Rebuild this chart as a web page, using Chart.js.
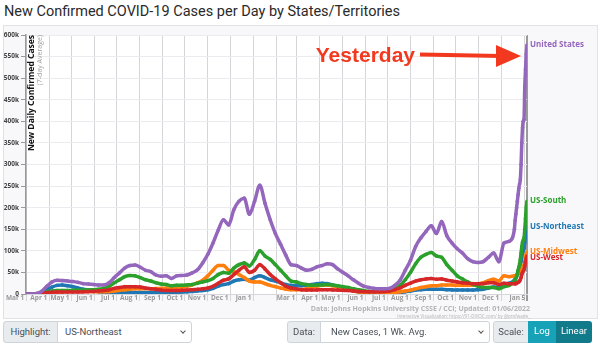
<!DOCTYPE html>
<html>
<head>
<meta charset="utf-8">
<script src="https://cdn.jsdelivr.net/npm/chart.js@4.4.1/dist/chart.umd.min.js"></script>
<style>
  body { margin:0; width:600px; height:344px; background:#fff; font-family:Roboto, sans-serif; position:relative; overflow:hidden; }
  #title { position:absolute; left:4px; top:3px; font-size:14.5px; color:#2a2a2a; white-space:nowrap; }
  #box { position:absolute; left:3px; top:25px; width:593px; height:292px; border:1px solid #e2e2e6; background:#f8f8fa; }
  #grafico { position:absolute; left:0; top:0; }
  #credito { position:absolute; right:70px; top:304px; text-align:right; font-family:"Open Sans", sans-serif; color:#b3b3b8; }
  #credito .l1 { font-size:7px; font-weight:bold; line-height:9px; }
  #credito .l2 { font-size:4.5px; line-height:6px; }
  .ctl { position:absolute; top:321px; height:22px; box-sizing:border-box; border:1px solid #ced4da; font-size:9.5px; color:#495057; line-height:20px; white-space:nowrap; overflow:hidden; }
  .lab { background:#e9ecef; text-align:center; }
  .sel { background:#fff; padding-left:7px; }
  .sel:after { content:""; position:absolute; right:6px; top:7px; width:3px; height:3px; border-right:1px solid #555; border-bottom:1px solid #555; transform:rotate(45deg); }
  .btn { color:#fff; text-align:center; border:none; }
</style>
</head>
<body>
<div id="title">New Confirmed COVID-19 Cases per Day by States/Territories</div>
<div id="box"></div>
<canvas id="grafico" width="600" height="320"></canvas>
<div id="credito">
  <div class="l1">Data: Johns Hopkins University CSSE / CCI; Updated: 01/06/2022</div>
  <div class="l2">Interactive Visualization: https://91-DIVOC.com/ by @profwade_</div>
</div>
<div class="ctl lab" style="left:3px;width:55px;border-radius:3px 0 0 3px;">Highlight:</div>
<div class="ctl sel" style="left:57px;width:135px;border-radius:0 3px 3px 0;">US-Northeast</div>
<div class="ctl lab" style="left:287px;width:34px;border-radius:3px 0 0 3px;">Data:</div>
<div class="ctl sel" style="left:320px;width:170px;padding-left:10px;border-radius:0 3px 3px 0;">New Cases, 1 Wk. Avg.</div>
<div class="ctl lab" style="left:493px;width:36px;border-radius:3px 0 0 3px;">Scale:</div>
<div class="ctl btn" style="left:528px;width:28px;background:#17a2b8;">Log</div>
<div class="ctl btn" style="left:556px;width:36px;background:#117a8b;border-radius:0 3px 3px 0;">Linear</div>
<script>
// fechas: semanal hasta el 19 dic 2021, luego diario
const fechas = [
  '2020-03-01','2020-03-08','2020-03-15','2020-03-22','2020-03-29','2020-04-05','2020-04-12','2020-04-19','2020-04-26','2020-05-03',
  '2020-05-10','2020-05-17','2020-05-24','2020-05-31','2020-06-07','2020-06-14','2020-06-21','2020-06-28','2020-07-05','2020-07-12',
  '2020-07-19','2020-07-26','2020-08-02','2020-08-09','2020-08-16','2020-08-23','2020-08-30','2020-09-06','2020-09-13','2020-09-20',
  '2020-09-27','2020-10-04','2020-10-11','2020-10-18','2020-10-25','2020-11-01','2020-11-08','2020-11-15','2020-11-22','2020-11-29',
  '2020-12-06','2020-12-13','2020-12-20','2020-12-27','2021-01-03','2021-01-10','2021-01-17','2021-01-24','2021-01-31','2021-02-07',
  '2021-02-14','2021-02-21','2021-02-28','2021-03-07','2021-03-14','2021-03-21','2021-03-28','2021-04-04','2021-04-11','2021-04-18',
  '2021-04-25','2021-05-02','2021-05-09','2021-05-16','2021-05-23','2021-05-30','2021-06-06','2021-06-13','2021-06-20','2021-06-27',
  '2021-07-04','2021-07-11','2021-07-18','2021-07-25','2021-08-01','2021-08-08','2021-08-15','2021-08-22','2021-08-29','2021-09-05',
  '2021-09-12','2021-09-19','2021-09-26','2021-10-03','2021-10-10','2021-10-17','2021-10-24','2021-10-31','2021-11-07','2021-11-14',
  '2021-11-21','2021-11-28','2021-12-05','2021-12-12','2021-12-19',
  '2021-12-20','2021-12-21','2021-12-22','2021-12-23','2021-12-24','2021-12-25','2021-12-26','2021-12-27','2021-12-28','2021-12-29',
  '2021-12-30','2021-12-31','2022-01-01','2022-01-02','2022-01-03','2022-01-04','2022-01-05'
];

// casos diarios (promedio 7 dias), en miles
const estadosUnidos = [
  0, 0.1, 1, 6, 18, 28, 32, 31, 30, 29,
  27, 24, 23, 22, 21, 21, 26, 38, 49, 60,
  66, 67, 62, 55, 52, 44, 41, 42, 36, 42,
  43, 44, 49, 56, 72, 92, 118, 148, 172, 160,
  195, 215, 222, 185, 215, 252, 210, 172, 140, 115,
  90, 68, 66, 60, 55, 57, 63, 66, 70, 68,
  58, 50, 42, 33, 25, 18, 15, 13, 12, 12,
  13, 20, 32, 55, 78, 110, 130, 145, 158, 140,
  168, 135, 118, 105, 95, 82, 75, 73, 75, 85,
  95, 75, 118, 122, 150,
  170, 185, 200, 215, 230, 245, 255, 265, 300, 350,
  385, 400, 405, 480, 520, 556, 577
];
const usSur = [
  0, 0, 0.3, 1.5, 5, 7, 8, 8, 8, 8.5,
  8.5, 9, 9.5, 10, 11, 13, 18, 26, 33, 40,
  43, 42, 38, 33, 30, 26, 23, 22, 19, 20,
  20, 21, 22, 25, 28, 31, 36, 45, 50, 48,
  60, 68, 72, 65, 80, 100, 88, 80, 68, 55,
  42, 30, 28, 24, 22, 20, 21, 21, 22, 21,
  19, 17, 15, 12, 10, 8, 6, 6, 7, 7,
  8, 12, 20, 33, 50, 70, 85, 92, 96, 88,
  85, 68, 55, 42, 35, 28, 22, 18, 15, 15,
  15, 12, 17, 20, 30,
  33, 36, 40, 45, 55, 62, 70, 80, 95, 110,
  120, 125, 130, 150, 175, 200, 215
];
const usNoreste = [
  0, 0, 0.5, 3, 10, 16, 20, 21, 19, 17,
  14, 11, 9, 7, 5, 4, 3, 3, 3, 3,
  3.5, 3.5, 3.5, 3.5, 3.5, 3.2, 3.2, 3.5, 3.5, 4,
  4.5, 5, 6, 7, 8, 10, 13, 18, 22, 24,
  30, 33, 34, 32, 38, 42, 38, 33, 30, 26,
  22, 20, 19, 19, 20, 22, 24, 25, 24, 21,
  18, 14, 10, 7, 5, 3, 2, 1.5, 1.2, 1.2,
  1.5, 2, 3, 5, 7, 9, 10, 11, 11, 11,
  11, 10, 9.5, 9, 9, 9, 9, 10, 11, 14,
  16, 15, 22, 25, 32,
  35, 38, 42, 47, 52, 58, 62, 67, 75, 85,
  95, 100, 105, 120, 135, 148, 155
];
const usMedioOeste = [
  0, 0, 0.2, 1, 3, 4, 4.5, 5, 6, 6.5,
  6.5, 6, 6, 5.5, 5, 5, 5.5, 7, 8.5, 10,
  11, 12, 12, 12.5, 12, 12.5, 13, 13.5, 14, 15,
  16, 18, 21, 26, 32, 42, 55, 66, 66, 55,
  52, 45, 38, 30, 28, 28, 24, 20, 17, 14,
  11, 10, 10, 10, 12, 15, 18, 20, 21, 19,
  16, 13, 10, 7, 5, 3.5, 2.5, 2, 2, 2,
  2.5, 3.5, 5, 7, 9, 12, 15, 17, 19, 19,
  21, 21, 21, 20, 20, 20, 21, 23, 26, 31,
  34, 30, 42, 40, 42,
  42, 43, 44, 45, 46, 48, 50, 52, 55, 60,
  62, 64, 66, 75, 85, 92, 98
];
const usOeste = [
  0, 0, 0.3, 1.5, 3, 4, 4.5, 4.5, 4.5, 4.5,
  4.5, 5, 5.5, 6, 7, 8, 10, 13, 15, 17,
  17, 17, 16, 14, 12, 11, 9, 8, 8, 8,
  8.5, 9, 10, 11, 12, 14, 18, 25, 32, 35,
  45, 55, 63, 50, 55, 68, 58, 45, 35, 26,
  18, 14, 12, 10, 9, 9, 9.5, 10, 10, 9.5,
  9, 8.5, 8, 7, 6, 5.5, 5, 5, 5, 5.5,
  7, 10, 14, 20, 25, 30, 33, 35, 36, 34,
  35, 32, 30, 28, 26, 25, 24, 24, 24, 26,
  26, 22, 25, 24, 24,
  24, 24, 25, 26, 27, 28, 30, 33, 38, 45,
  50, 53, 56, 65, 75, 82, 88
];

// marcas del eje x (dia desde el 1 mar 2020) y sus etiquetas
const diasMarca = [0, 31, 61, 92, 122, 153, 184, 214, 245, 275, 306, 337, 365, 396, 426, 457, 487, 518, 549, 579, 610, 640, 671, 675];
const etiquetasMarca = ['Mar 1', 'Apr 1', 'May 1', 'Jun 1', 'Jul 1', 'Aug 1', 'Sep 1', 'Oct 1', 'Nov 1', 'Dec 1', 'Jan 1', '',
  'Mar 1', 'Apr 1', 'May 1', 'Jun 1', 'Jul 1', 'Aug 1', 'Sep 1', 'Oct 1', 'Nov 1', 'Dec 1', '', 'Jan 5'];

const series = [
  { nombre: 'United States', color: '#9467bd', valores: estadosUnidos },
  { nombre: 'US-West', color: '#d62728', valores: usOeste },
  { nombre: 'US-South', color: '#2ca02c', valores: usSur },
  { nombre: 'US-Midwest', color: '#ff7f0e', valores: usMedioOeste },
  { nombre: 'US-Northeast', color: '#1f77b4', valores: usNoreste }
];

const diaDe = f => Math.round((Date.parse(f) - Date.parse('2020-03-01')) / 86400000);
const ultimoDia = diaDe(fechas[fechas.length - 1]);

//plugin para fondo, titulo del eje, etiquetas y flecha

const extras = {
  id: 'extras',
  beforeDraw(chart) {
    const { ctx, chartArea: a } = chart;
    ctx.save();
    ctx.fillStyle = '#ffffff';
    ctx.fillRect(a.left, a.top, a.right - a.left, a.bottom - a.top);
    ctx.restore();
  },
  afterDraw(chart) {
    const { ctx, chartArea: a, scales } = chart;
    ctx.save();
    // titulo del eje y
    ctx.translate(a.left + 6, a.top);
    ctx.rotate(-Math.PI / 2);
    ctx.textAlign = 'right';
    ctx.textBaseline = 'middle';
    ctx.font = 'bold 8.5px "Open Sans"';
    ctx.fillStyle = '#111';
    ctx.fillText('New Daily Confirmed Cases', 0, 0);
    ctx.font = '7px "Open Sans"';
    ctx.fillStyle = '#a0a0a0';
    ctx.fillText('(7-day Average)', 0, 8);
    ctx.restore();

    // etiquetas al final de cada serie
    const finales = chart.data.datasets.map((ds, i) => {
      const meta = chart.getDatasetMeta(i);
      const p = meta.data[meta.data.length - 1];
      return { texto: ds.label, color: ds.borderColor, x: p.x, y: p.y };
    }).sort((p, q) => p.y - q.y);
    let prev = -100;
    ctx.save();
    ctx.font = 'bold 8px "Open Sans"';
    ctx.textBaseline = 'middle';
    finales.forEach(f => {
      const y = Math.max(f.y, prev + 6);
      prev = y;
      ctx.fillStyle = f.color;
      ctx.fillText(f.texto, f.x + 3, y);
    });
    ctx.restore();

    // anotacion "Yesterday"
    const tipX = scales.x.getPixelForValue(ultimoDia) - 6;
    const tipY = scales.y.getPixelForValue(estadosUnidos[estadosUnidos.length - 1]) + 11;
    ctx.save();
    ctx.fillStyle = '#f2391f';
    ctx.strokeStyle = '#f2391f';
    ctx.font = 'bold 21px "Liberation Sans"';
    ctx.textAlign = 'right';
    ctx.textBaseline = 'middle';
    ctx.fillText('Yesterday', tipX - 106, tipY);
    ctx.lineWidth = 4;
    ctx.beginPath();
    ctx.moveTo(tipX - 101, tipY - 1.5);
    ctx.lineTo(tipX - 20, tipY);
    ctx.stroke();
    ctx.beginPath();
    ctx.moveTo(tipX, tipY);
    ctx.lineTo(tipX - 25, tipY - 11);
    ctx.lineTo(tipX - 25, tipY + 11);
    ctx.closePath();
    ctx.fill();
    ctx.restore();
  }
};

const fuenteEje = { family: 'Open Sans', size: 6.5, weight: 'bold' };

const config = {
  type: 'line',
  data: {
    datasets: series.map(s => ({
      label: s.nombre,
      data: s.valores.map((v, i) => ({ x: diaDe(fechas[i]), y: v })),
      borderColor: s.color,
      backgroundColor: s.color,
      borderWidth: 3.5,
      pointRadius: 1.8,
      pointBorderWidth: 0,
      cubicInterpolationMode: 'monotone',
      fill: false
    }))
  },
  options: {
    responsive: false,
    animation: false,
    layout: { padding: { top: 35, right: 73, left: 0, bottom: 18 } },
    plugins: { legend: { display: false }, tooltip: { enabled: false } },
    scales: {
      x: {
        type: 'linear',
        min: 0,
        max: ultimoDia,
        afterBuildTicks: s => { s.ticks = diasMarca.map(v => ({ value: v })); },
        afterFit: s => { s.height = 8; },
        ticks: {
          autoSkip: false,
          maxRotation: 0,
          align: 'end',
          padding: -7,
          font: fuenteEje,
          color: '#999',
          callback: (v, i) => etiquetasMarca[i] ? etiquetasMarca[i] + ' ' : ''
        },
        grid: {
          color: c => (c.tick && c.tick.value === ultimoDia) ? '#9a9a9a' : '#d6d6da',
          lineWidth: c => (c.tick && c.tick.value === ultimoDia) ? 2 : 1,
          tickLength: 7
        },
        border: { color: '#d6d6da' }
      },
      y: {
        min: 0,
        max: 600,
        afterFit: s => { s.width = 26; },
        ticks: {
          stepSize: 50,
          padding: 2,
          font: fuenteEje,
          color: '#444',
          callback: v => v === 0 ? '0' : v + 'k'
        },
        grid: { color: '#ececf0', tickLength: 5, tickColor: '#999' },
        border: { color: '#999', width: 1.5 }
      }
    }
  },
  plugins: [extras]
};

new Chart(document.getElementById('grafico').getContext('2d'), config);
</script>
</body>
</html>
